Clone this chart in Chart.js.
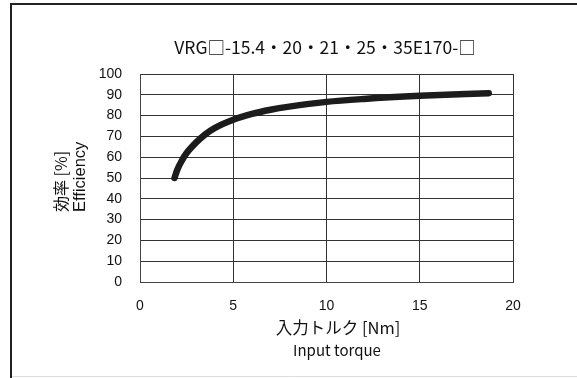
<!DOCTYPE html>
<html><head><meta charset="utf-8">
<script src="https://cdn.jsdelivr.net/npm/chart.js@4/dist/chart.umd.min.js"></script>
<style>html,body{margin:0;padding:0;background:#fff}#wrap{width:577px;height:378px}</style>
</head><body><div id="wrap"><canvas id="c" width="577" height="378"></canvas></div>
<script>
const chartTitle = 'VRG□-15.4・20・21・25・35E170-□';
const xTitle = ['入力トルク [Nm]', 'Input torque'];
const yTitle = ['効率 [%]', 'Efficiency'];
const torque = [1.85, 2, 2.25, 2.5, 3, 3.5, 4, 5, 6, 7, 8, 10, 12, 15, 18.7];
const efficiency = [50, 54, 58.5, 62, 67, 71, 74, 78, 80.8, 82.8, 84.3, 86.6, 88, 89.5, 90.8];
const xTicks = [0, 5, 10, 15, 20];
const yTicks = [0, 10, 20, 30, 40, 50, 60, 70, 80, 90, 100];

const FONT = "'Liberation Sans', Arial, 'Noto Sans CJK JP', sans-serif";
const JFONT = "'Noto Sans CJK JP', 'Liberation Sans', sans-serif";

const decor = {
  id: 'decor',
  beforeDraw(chart) {
    const ctx = chart.ctx;
    ctx.save();
    ctx.fillStyle = '#fff';
    ctx.fillRect(0, 0, chart.width, chart.height);
    ctx.restore();
  },
  afterDraw(chart) {
    const ctx = chart.ctx;
    ctx.save();
    // frame
    ctx.strokeStyle = '#222';
    ctx.lineWidth = 2;
    ctx.beginPath();
    ctx.moveTo(11, 378); ctx.lineTo(11, 4); ctx.lineTo(577, 4);
    ctx.stroke();
    ctx.strokeStyle = '#ddd';
    ctx.lineWidth = 1;
    ctx.beginPath();
    ctx.moveTo(12, 376.5); ctx.lineTo(577, 376.5);
    ctx.stroke();
    // title
    ctx.fillStyle = '#111';
    ctx.textAlign = 'center';
    ctx.textBaseline = 'middle';
    ctx.font = '17.5px ' + JFONT;
    ctx.fillText(chartTitle, 325, 47);
    // x title
    ctx.font = '16.5px ' + JFONT;
    ctx.fillText(xTitle[0], 338, 328);
    ctx.font = '15px ' + JFONT;
    ctx.fillText(xTitle[1], 337, 350);
    // y title
    ctx.translate(61, 212);
    ctx.rotate(-Math.PI / 2);
    ctx.textAlign = 'left';
    ctx.font = '16px ' + JFONT;
    ctx.fillText(yTitle[0], 0, 0);
    ctx.font = '16.5px ' + FONT;
    ctx.fillText(yTitle[1], 0, 19);
    ctx.restore();
  }
};

new Chart(document.getElementById('c'), {
  type: 'line',
  data: {
    datasets: [{
      data: torque.map((t, i) => ({ x: t, y: efficiency[i] })),
      borderColor: '#1c1c1c',
      borderWidth: 6.5,
      borderCapStyle: 'round',
      borderJoinStyle: 'round',
      pointRadius: 0,
      cubicInterpolationMode: 'monotone',
      fill: false
    }]
  },
  plugins: [decor],
  options: {
    responsive: false,
    animation: false,
    devicePixelRatio: 1,
    layout: { padding: { left: 0, right: 64, top: 74, bottom: 0 } },
    plugins: { legend: { display: false }, tooltip: { enabled: false }, title: { display: false } },
    scales: {
      x: {
        type: 'linear', min: 0, max: 20,
        afterBuildTicks: s => { s.ticks = xTicks.map(v => ({ value: v })); },
        afterFit: s => { s.height = 96; },
        grid: { color: '#333', lineWidth: 1, drawTicks: false },
        border: { color: '#444', width: 1 },
        ticks: { padding: 16, color: '#111', font: { family: FONT, size: 14 }, maxRotation: 0 }
      },
      y: {
        type: 'linear', min: 0, max: 100,
        afterBuildTicks: s => { s.ticks = yTicks.map(v => ({ value: v })); },
        afterFit: s => { s.width = 140; },
        grid: { color: '#333', lineWidth: 1, drawTicks: false },
        border: { color: '#444', width: 1 },
        ticks: { padding: 18, color: '#111', font: { family: FONT, size: 14 } }
      }
    }
  }
});
</script>
</body></html>
